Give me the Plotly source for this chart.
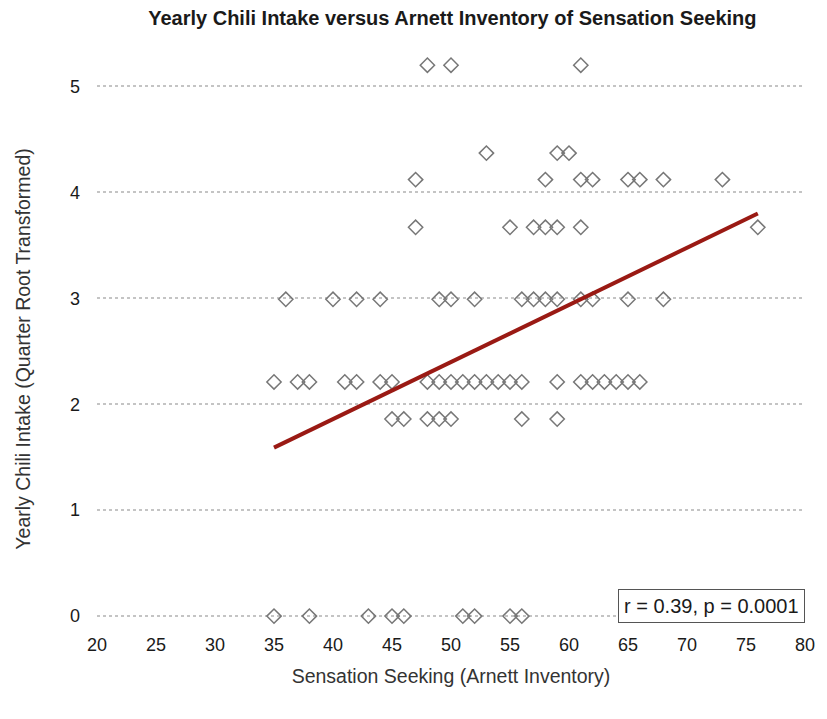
import plotly.graph_objects as go

# Sensation seeking scores (Arnett Inventory), grouped by chili intake level
x_520 = [48, 50, 61]
x_437 = [53, 59, 60]
x_412 = [47, 58, 61, 62, 65, 66, 68, 73]
x_367 = [47, 55, 57, 58, 59, 61, 76]
x_299 = [36, 40, 42, 44, 49, 50, 52, 56, 57, 58, 59, 61, 62, 65, 68]
x_221 = [35, 37, 38, 41, 42, 44, 45, 48, 49, 50, 51, 52, 53, 54, 55, 56,
         59, 61, 62, 63, 64, 65, 66]
x_186 = [45, 46, 48, 49, 50, 56, 59]
x_000 = [35, 38, 43, 45, 46, 51, 52, 55, 56]

# Quarter-root transformed yearly chili intake for each group
levels = [5.20, 4.37, 4.12, 3.67, 2.99, 2.21, 1.86, 0.0]
groups = [x_520, x_437, x_412, x_367, x_299, x_221, x_186, x_000]

# Least-squares fit line end points
fit_x = [35, 76]
fit_y = [1.59, 3.80]

stat_text = "r = 0.39, p = 0.0001"
x_ticks = [20, 25, 30, 35, 40, 45, 50, 55, 60, 65, 70, 75, 80]
y_ticks = [0, 1, 2, 3, 4, 5]

xs, ys = [], []
for lvl, g in zip(levels, groups):
    xs.extend(g)
    ys.extend([lvl] * len(g))

W, H = 827, 719
M_L, M_R, M_T, M_B = 97, 16, 44, 87
plot_w = W - M_L - M_R
plot_h = H - M_T - M_B

font = "Liberation Sans, Arial, Helvetica, sans-serif"
ink = "#1a1a1a"

fig = go.Figure()
fig.add_trace(go.Scatter(
    x=xs, y=ys, mode="markers",
    marker=dict(symbol="diamond-open", size=11, color="#777777",
                line=dict(width=1.5, color="#777777")),
    showlegend=False,
))
fig.add_trace(go.Scatter(
    x=fit_x, y=fit_y, mode="lines",
    line=dict(color="#9a1a14", width=4),
    showlegend=False,
))

fig.add_annotation(
    x=72.1, y=0.10, xref="x", yref="y", text=stat_text, showarrow=False,
    font=dict(family=font, size=20, color=ink),
    bordercolor="#555555", borderwidth=1, borderpad=5, bgcolor="white",
)

# y-axis title, positioned relative to the plot area
fig.add_annotation(
    x=(22 - M_L) / plot_w, y=(H - M_B - 349) / plot_h,
    xref="paper", yref="paper",
    text="Yearly Chili Intake (Quarter Root Transformed)", textangle=-90,
    showarrow=False, xanchor="center", yanchor="middle",
    font=dict(family=font, size=19.5, color="#333333"),
)

fig.update_layout(
    width=W, height=H,
    margin=dict(l=M_L, r=M_R, t=M_T, b=M_B),
    paper_bgcolor="white", plot_bgcolor="white",
    title=dict(
        text="<b>Yearly Chili Intake versus Arnett Inventory of Sensation Seeking</b>",
        x=0.547, xanchor="center", y=0.975, yanchor="middle",
        font=dict(family=font, size=20, color=ink),
    ),
    xaxis=dict(
        range=[20, 80], tickvals=x_ticks, showgrid=False, zeroline=False,
        showline=False, ticks="",
        tickfont=dict(family=font, size=18, color=ink),
        title=dict(text="Sensation Seeking (Arnett Inventory)",
                   font=dict(family=font, size=19.5, color="#333333"), standoff=15),
    ),
    yaxis=dict(
        range=[-0.15, 5.4], tickvals=y_ticks, showgrid=True,
        gridcolor="#c4c4c4", griddash="dot", gridwidth=1.5,
        zeroline=False, showline=False, ticks="", ticklabelstandoff=16,
        tickfont=dict(family=font, size=18, color=ink),
    ),
)

fig.write_html("out.html")
